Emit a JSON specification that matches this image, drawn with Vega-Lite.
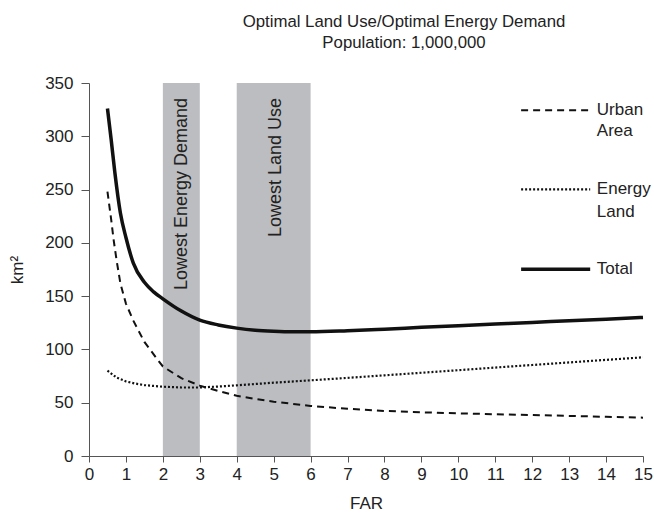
{
  "$schema": "https://vega.github.io/schema/vega-lite/v6.json",
  "width": 554,
  "height": 373,
  "autosize": {"type": "none"},
  "padding": {"left": 89, "top": 83, "right": 11, "bottom": 59},
  "config": {
    "font": "Liberation Sans",
    "view": {"stroke": null},
    "axis": {"grid": false, "domainColor": "#555", "tickColor": "#555", "labelColor": "#222", "titleColor": "#222", "titleFontWeight": "normal", "labelFontSize": 17, "titleFontSize": 17, "labelOverlap": false, "labelFlush": false}
  },
  "title": {
    "text": ["Optimal Land Use/Optimal Energy Demand", "Population: 1,000,000"],
    "fontSize": 16.8,
    "fontWeight": "normal",
    "color": "#222",
    "lineHeight": 21,
    "anchor": "middle",
    "dx": 38,
    "offset": 22
  },
  "datasets": {
    "curves": [
      {"far": 0.5, "series": "Urban Area", "value": 248},
      {"far": 0.6, "series": "Urban Area", "value": 222},
      {"far": 0.67, "series": "Urban Area", "value": 202},
      {"far": 0.75, "series": "Urban Area", "value": 183},
      {"far": 0.85, "series": "Urban Area", "value": 162},
      {"far": 1, "series": "Urban Area", "value": 143},
      {"far": 1.2, "series": "Urban Area", "value": 127},
      {"far": 1.5, "series": "Urban Area", "value": 107},
      {"far": 1.8, "series": "Urban Area", "value": 93},
      {"far": 2, "series": "Urban Area", "value": 84},
      {"far": 2.5, "series": "Urban Area", "value": 73},
      {"far": 3, "series": "Urban Area", "value": 66},
      {"far": 3.5, "series": "Urban Area", "value": 61},
      {"far": 4, "series": "Urban Area", "value": 56.5},
      {"far": 4.5, "series": "Urban Area", "value": 53.5},
      {"far": 5, "series": "Urban Area", "value": 51},
      {"far": 6, "series": "Urban Area", "value": 47},
      {"far": 7, "series": "Urban Area", "value": 44.3},
      {"far": 8, "series": "Urban Area", "value": 42.3},
      {"far": 9, "series": "Urban Area", "value": 41},
      {"far": 10, "series": "Urban Area", "value": 40},
      {"far": 11, "series": "Urban Area", "value": 39.2},
      {"far": 12, "series": "Urban Area", "value": 38.5},
      {"far": 13, "series": "Urban Area", "value": 37.6},
      {"far": 14, "series": "Urban Area", "value": 36.8},
      {"far": 15, "series": "Urban Area", "value": 36},
      {"far": 0.5, "series": "Energy Land", "value": 80},
      {"far": 0.75, "series": "Energy Land", "value": 73.5},
      {"far": 1, "series": "Energy Land", "value": 70},
      {"far": 1.25, "series": "Energy Land", "value": 68},
      {"far": 1.5, "series": "Energy Land", "value": 66.5},
      {"far": 2, "series": "Energy Land", "value": 65},
      {"far": 2.5, "series": "Energy Land", "value": 64.3},
      {"far": 3, "series": "Energy Land", "value": 64.3},
      {"far": 3.5, "series": "Energy Land", "value": 65.2},
      {"far": 4, "series": "Energy Land", "value": 66.3},
      {"far": 5, "series": "Energy Land", "value": 68.8},
      {"far": 6, "series": "Energy Land", "value": 71},
      {"far": 7, "series": "Energy Land", "value": 73.3},
      {"far": 8, "series": "Energy Land", "value": 75.7},
      {"far": 9, "series": "Energy Land", "value": 78.1},
      {"far": 10, "series": "Energy Land", "value": 80.5},
      {"far": 11, "series": "Energy Land", "value": 83},
      {"far": 12, "series": "Energy Land", "value": 85.4},
      {"far": 13, "series": "Energy Land", "value": 87.8},
      {"far": 14, "series": "Energy Land", "value": 90.2},
      {"far": 15, "series": "Energy Land", "value": 92.6},
      {"far": 0.5, "series": "Total", "value": 326},
      {"far": 0.6, "series": "Total", "value": 297},
      {"far": 0.7, "series": "Total", "value": 266},
      {"far": 0.85, "series": "Total", "value": 228},
      {"far": 1, "series": "Total", "value": 205},
      {"far": 1.2, "series": "Total", "value": 181},
      {"far": 1.5, "series": "Total", "value": 163},
      {"far": 1.75, "series": "Total", "value": 154},
      {"far": 2, "series": "Total", "value": 147.5},
      {"far": 2.5, "series": "Total", "value": 136},
      {"far": 3, "series": "Total", "value": 127.5},
      {"far": 3.5, "series": "Total", "value": 123},
      {"far": 4, "series": "Total", "value": 120},
      {"far": 4.5, "series": "Total", "value": 118},
      {"far": 5, "series": "Total", "value": 117},
      {"far": 5.5, "series": "Total", "value": 116.5},
      {"far": 6, "series": "Total", "value": 116.5},
      {"far": 7, "series": "Total", "value": 117.5},
      {"far": 8, "series": "Total", "value": 119},
      {"far": 9, "series": "Total", "value": 120.7},
      {"far": 10, "series": "Total", "value": 122.3},
      {"far": 11, "series": "Total", "value": 123.8},
      {"far": 12, "series": "Total", "value": 125.3},
      {"far": 13, "series": "Total", "value": 126.9},
      {"far": 14, "series": "Total", "value": 128.4},
      {"far": 15, "series": "Total", "value": 130}
    ],
    "bands": [
      {"far": 2, "far2": 3, "value": 0, "value2": 350},
      {"far": 4, "far2": 6, "value": 0, "value2": 350}
    ],
    "bandText": [
      {"far": 2.52, "value": 336, "label": "Lowest Energy Demand"},
      {"far": 5.05, "value": 336, "label": "Lowest Land Use"}
    ],
    "legendLines": [
      {"series": "Urban Area", "far": 11.7, "far2": 13.57, "value": 324.4},
      {"series": "Energy Land", "far": 11.7, "far2": 13.57, "value": 250.1},
      {"series": "Total", "far": 11.7, "far2": 13.57, "value": 175.2}
    ],
    "legendText": [
      {"far": 13.75, "value": 324.4, "label": "Urban"},
      {"far": 13.75, "value": 304.7, "label": "Area"},
      {"far": 13.75, "value": 250.1, "label": "Energy"},
      {"far": 13.75, "value": 229.4, "label": "Land"},
      {"far": 13.75, "value": 175.2, "label": "Total"}
    ]
  },
  "encoding": {
    "x": {"field": "far", "type": "quantitative", "scale": {"domain": [0, 15], "nice": false, "zero": true}, "axis": {"values": [0,1,2,3,4,5,6,7,8,9,10,11,12,13,14,15], "labelOverlap": false, "tickSize": 6, "labelPadding": 4, "title": "FAR", "titlePadding": 13}},
    "y": {"field": "value", "type": "quantitative", "scale": {"domain": [0, 350], "nice": false}, "axis": {"values": [0,50,100,150,200,250,300,350], "labelOverlap": false, "tickSize": 8, "labelPadding": 8, "title": "km²", "titlePadding": 18}}
  },
  "layer": [
    {
      "data": {"name": "bands"},
      "mark": {"type": "rect", "color": "#bcbdc0"},
      "encoding": {
        "x2": {"field": "far2"},
        "y2": {"field": "value2"}
      }
    },
    {
      "data": {"name": "bandText"},
      "mark": {"type": "text", "angle": 270, "align": "right", "baseline": "middle", "fontSize": 18, "color": "#222", "font": "Liberation Sans"},
      "encoding": {
        "text": {"field": "label"}
      }
    },
    {
      "data": {"name": "curves"},
      "transform": [{"filter": "datum.series === 'Urban Area'"}],
      "mark": {"type": "line", "color": "#111", "strokeWidth": 2, "strokeDash": [7, 5]},
      "encoding": {}
    },
    {
      "data": {"name": "curves"},
      "transform": [{"filter": "datum.series === 'Energy Land'"}],
      "mark": {"type": "line", "color": "#111", "strokeWidth": 2.2, "strokeDash": [2, 2]},
      "encoding": {}
    },
    {
      "data": {"name": "curves"},
      "transform": [{"filter": "datum.series === 'Total'"}],
      "mark": {"type": "line", "color": "#111", "strokeWidth": 3.5, "interpolate": "monotone"},
      "encoding": {}
    },
    {
      "data": {"name": "legendLines"},
      "transform": [{"filter": "datum.series === 'Urban Area'"}],
      "mark": {"type": "rule", "color": "#111", "strokeWidth": 2, "strokeDash": [7, 5]},
      "encoding": {"x2": {"field": "far2"}}
    },
    {
      "data": {"name": "legendLines"},
      "transform": [{"filter": "datum.series === 'Energy Land'"}],
      "mark": {"type": "rule", "color": "#111", "strokeWidth": 2.2, "strokeDash": [2, 2]},
      "encoding": {"x2": {"field": "far2"}}
    },
    {
      "data": {"name": "legendLines"},
      "transform": [{"filter": "datum.series === 'Total'"}],
      "mark": {"type": "rule", "color": "#111", "strokeWidth": 3.5},
      "encoding": {"x2": {"field": "far2"}}
    },
    {
      "data": {"name": "legendText"},
      "mark": {"type": "text", "align": "left", "baseline": "middle", "fontSize": 17, "color": "#222", "font": "Liberation Sans"},
      "encoding": {
        "text": {"field": "label"}
      }
    }
  ]
}
